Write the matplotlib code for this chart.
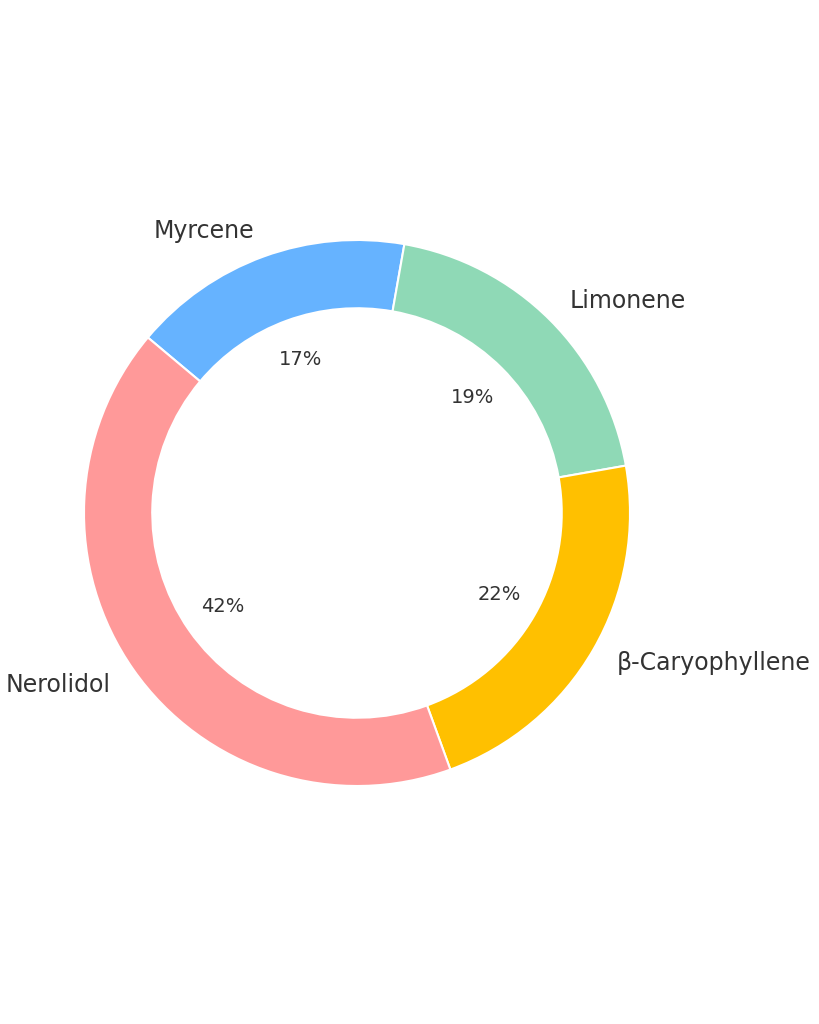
import matplotlib
matplotlib.use("Agg")
import matplotlib.pyplot as plt

labels = ["Myrcene", "Limonene", "β-Caryophyllene", "Nerolidol"]
values = [0.6, 0.7, 0.8, 1.5]
colors = ["#66b3ff", "#8fd9b6", "#ffc000", "#ff9999"]

plt.rcParams['font.family'] = ['DejaVu Sans']
fig = plt.figure(figsize=(8.19, 10.24), dpi=100)
W, H = 819, 1024
R = 273
cx, cy = 357, 1024 - 513
half = 1.25 * R
ax = fig.add_axes([(cx - half) / W, (cy - half) / H, 2 * half / W, 2 * half / H])
wedges, texts, autotexts = ax.pie(
    values, labels=labels, colors=colors, startangle=140, counterclock=False,
    autopct='%1.0f%%', pctdistance=0.6, labeldistance=1.1,
    wedgeprops=dict(width=0.25, edgecolor='white', linewidth=1.5),
    textprops=dict(color='#333333'))
for t in texts:
    t.set_fontsize(17)
for t in autotexts:
    t.set_fontsize(14)
ax.set_aspect('equal')
fig.savefig("out.png", dpi=100)
